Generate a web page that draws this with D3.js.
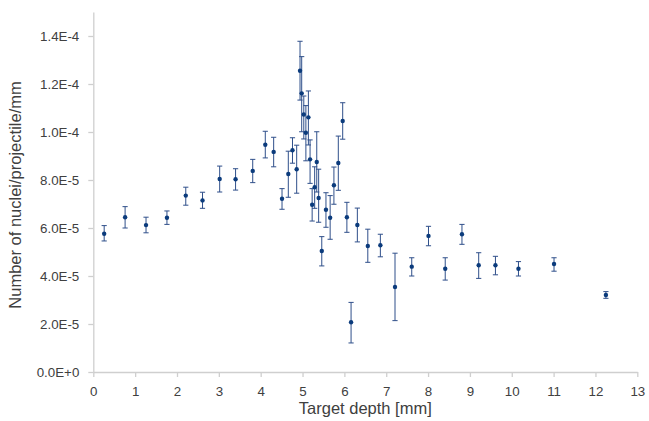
<!DOCTYPE html>
<html>
<head>
<meta charset="utf-8">
<script src="https://cdn.jsdelivr.net/npm/d3@7"></script>
<style>
  html, body { margin: 0; padding: 0; background: #fff; }
  svg { display: block; }
  text { font-family: "Liberation Sans", Arial, sans-serif; }
</style>
</head>
<body>
<svg id="chart" width="649" height="421"></svg>
<script>
// Target depth [mm]
const depth = [0.26, 0.76, 1.26, 1.76, 2.21, 2.61, 3.02, 3.40, 3.81, 4.11, 4.31,
  4.51, 4.66, 4.76, 4.86, 4.94, 4.98, 5.03, 5.08, 5.14, 5.18, 5.23, 5.29, 5.34,
  5.385, 5.46, 5.56, 5.66, 5.75, 5.855, 5.96, 6.06, 6.16, 6.31, 6.56, 6.86,
  7.21, 7.61, 8.01, 8.41, 8.81, 9.21, 9.61, 10.16, 11.01, 12.25];
// Number of nuclei/projectile/mm (units of 1E-5)
const nuclei = [5.76, 6.45, 6.12, 6.43, 7.35, 7.15, 8.04, 8.03, 8.38, 9.47, 9.17,
  7.22, 8.25, 9.24, 8.45, 12.55, 11.61, 10.73, 9.97, 10.61, 8.86, 6.97, 7.70, 8.75,
  7.25, 5.04, 6.76, 6.43, 7.78, 8.71, 10.46, 6.45, 2.07, 6.125, 5.25, 5.28,
  3.54, 4.39, 5.67, 4.30, 5.74, 4.45, 4.45, 4.30, 4.50, 3.21];
// error bar lower ends (units of 1E-5)
const errLow = [5.46, 6.00, 5.80, 6.15, 6.95, 6.82, 7.50, 7.58, 7.89, 8.92, 8.55,
  6.78, 7.28, 8.70, 7.45, 11.33, 10.01, 9.71, 8.80, 9.46, 7.86, 6.29, 6.82, 7.50,
  6.24, 4.42, 6.03, 5.53, 6.99, 7.57, 9.70, 5.82, 1.21, 5.42, 4.57, 4.80,
  2.14, 4.00, 5.26, 3.83, 5.32, 3.90, 4.05, 4.00, 4.20, 3.07];
// error bar upper ends (units of 1E-5)
const errHigh = [6.10, 6.89, 6.45, 6.71, 7.70, 7.49, 8.58, 8.47, 8.86, 10.03, 9.78,
  7.64, 9.20, 9.76, 9.45, 13.78, 13.14, 11.50, 11.10, 11.71, 9.67, 7.64, 8.55, 10.01,
  8.45, 5.64, 7.47, 7.35, 8.54, 9.83, 11.22, 7.07, 2.90, 6.83, 5.95, 5.74,
  4.95, 4.76, 6.07, 4.76, 6.15, 4.97, 4.82, 4.60, 4.76, 3.35];
const unit = 1e-5;
const xTicks = d3.range(0, 14, 1);
const yTicks = [0, 2e-5, 4e-5, 6e-5, 8e-5, 1e-4, 1.2e-4, 1.4e-4];

const data = depth.map((d, i) => ({
  x: d, y: nuclei[i] * unit, lo: errLow[i] * unit, hi: errHigh[i] * unit
}));

const svg = d3.select("#chart");
const mLeft = 93.3, mRight = 637.3, mTop = 12, mBottom = 372;

const x = d3.scaleLinear().domain([0, 13]).range([mLeft, mRight]);
const y = d3.scaleLinear().domain([0, 1.5e-4]).range([mBottom, mTop]);

const axisColor = "#cfcfcf";
const textColor = "#404040";

// X axis
const gx = svg.append("g").attr("transform", `translate(0,${mBottom})`)
  .call(d3.axisBottom(x).tickValues(xTicks).tickFormat(d3.format("d"))
    .tickSize(5).tickSizeOuter(0).tickPadding(10));
gx.select(".domain").attr("stroke", axisColor).attr("stroke-width", 1.3);
gx.selectAll(".tick line").attr("stroke", axisColor).attr("stroke-width", 1.3);
gx.selectAll(".tick text").attr("fill", textColor)
  .style("font-size", "13.33px").style("font-family", "Liberation Sans, Arial, sans-serif");

// Y axis
const fmt = v => d3.format(".1e")(v).toUpperCase();
const gy = svg.append("g").attr("transform", `translate(${mLeft},0)`)
  .call(d3.axisLeft(y).tickValues(yTicks).tickFormat(fmt)
    .tickSize(5).tickSizeOuter(0).tickPadding(9));
gy.select(".domain").attr("stroke", axisColor).attr("stroke-width", 1.3);
gy.selectAll(".tick line").attr("stroke", axisColor).attr("stroke-width", 1.3);
gy.selectAll(".tick text").attr("fill", textColor)
  .style("font-size", "13.33px").style("font-family", "Liberation Sans, Arial, sans-serif");

// Error bars
const barColor = "#2f4f8a";
const cap = 2.6;
const eb = svg.append("g").attr("class", "errorbars");
eb.selectAll("line.v").data(data).join("line").attr("class", "v")
  .attr("x1", d => x(d.x)).attr("x2", d => x(d.x))
  .attr("y1", d => y(d.lo)).attr("y2", d => y(d.hi))
  .attr("stroke", barColor).attr("stroke-width", 1);
eb.selectAll("line.ct").data(data).join("line").attr("class", "ct")
  .attr("x1", d => x(d.x) - cap).attr("x2", d => x(d.x) + cap)
  .attr("y1", d => y(d.hi)).attr("y2", d => y(d.hi))
  .attr("stroke", barColor).attr("stroke-width", 1);
eb.selectAll("line.cb").data(data).join("line").attr("class", "cb")
  .attr("x1", d => x(d.x) - cap).attr("x2", d => x(d.x) + cap)
  .attr("y1", d => y(d.lo)).attr("y2", d => y(d.lo))
  .attr("stroke", barColor).attr("stroke-width", 1);

// Markers
svg.append("g").selectAll("circle").data(data).join("circle")
  .attr("cx", d => x(d.x)).attr("cy", d => y(d.y)).attr("r", 2.2)
  .attr("fill", "#0b3b7c");

// Axis titles
svg.append("text")
  .attr("x", (mLeft + mRight) / 2).attr("y", 414)
  .attr("text-anchor", "middle").attr("fill", textColor)
  .style("font-size", "16.5px")
  .text("Target depth [mm]");

svg.append("text")
  .attr("transform", `translate(21,195) rotate(-90)`)
  .attr("text-anchor", "middle").attr("fill", textColor)
  .style("font-size", "16.5px")
  .text("Number of nuclei/projectile/mm");
</script>
</body>
</html>
